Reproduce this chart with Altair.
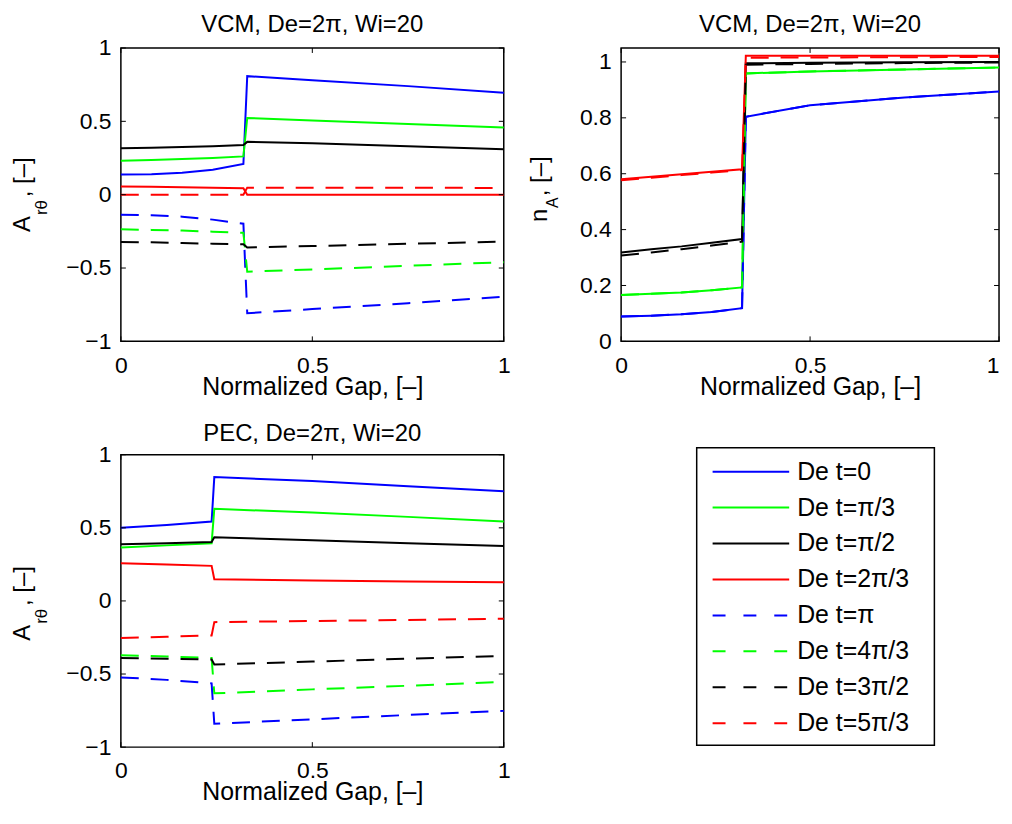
import altair as alt
import pandas as pd

FONT = "Liberation Sans"

# ---------------- data ----------------
series_names = ["De t=0", "De t=π/3", "De t=π/2", "De t=2π/3",
                "De t=π", "De t=4π/3", "De t=3π/2", "De t=5π/3"]
series_colors = ["#0000ff", "#00ff00", "#000000", "#ff0000",
                 "#0000ff", "#00ff00", "#000000", "#ff0000"]
series_dashed = [False, False, False, False, True, True, True, True]
series_order = [0, 1, 2, 3, 4, 5, 6, 7]

x_ticks = [0, 0.5, 1]
a_ticks = [-1, -0.5, 0, 0.5, 1]
n_ticks = [0, 0.2, 0.4, 0.6, 0.8, 1]

panel_titles = ["VCM, De=2π, Wi=20", "VCM, De=2π, Wi=20", "PEC, De=2π, Wi=20"]
x_title = "Normalized Gap, [–]"

# VCM, A_rtheta
vcm_x = [0, 0.08, 0.16, 0.24, 0.32, 0.33, 0.5, 0.75, 1.0]
vcm_a_t0 = [0.137, 0.140, 0.150, 0.170, 0.209, 0.808, 0.780, 0.740, 0.695]
vcm_a_t1 = [0.232, 0.236, 0.243, 0.250, 0.261, 0.523, 0.505, 0.482, 0.458]
vcm_a_t2 = [0.317, 0.320, 0.325, 0.330, 0.338, 0.360, 0.350, 0.330, 0.310]
vcm_a_t3 = [0.056, 0.054, 0.051, 0.048, 0.044, 0.000, 0.000, 0.000, 0.000]
vcm_a_t4 = [-0.137, -0.140, -0.150, -0.170, -0.198, -0.808, -0.780, -0.740, -0.695]
vcm_a_t5 = [-0.236, -0.240, -0.245, -0.252, -0.260, -0.525, -0.510, -0.485, -0.460]
vcm_a_t6 = [-0.322, -0.325, -0.330, -0.334, -0.338, -0.360, -0.350, -0.335, -0.320]
vcm_a_t7 = [0.000, 0.000, 0.000, 0.000, 0.000, 0.048, 0.048, 0.047, 0.046]

# VCM, n_A
vcm_n_t0 = [0.089, 0.092, 0.097, 0.105, 0.119, 0.804, 0.845, 0.873, 0.894]
vcm_n_t1 = [0.166, 0.170, 0.175, 0.183, 0.193, 0.959, 0.966, 0.973, 0.980]
vcm_n_t2 = [0.318, 0.330, 0.340, 0.353, 0.366, 0.995, 0.997, 0.999, 1.000]
vcm_n_t3 = [0.580, 0.589, 0.598, 0.607, 0.616, 1.022, 1.022, 1.022, 1.022]
vcm_n_t4 = [0.089, 0.092, 0.097, 0.105, 0.119, 0.804, 0.845, 0.873, 0.894]
vcm_n_t5 = [0.166, 0.170, 0.175, 0.183, 0.193, 0.959, 0.966, 0.973, 0.980]
vcm_n_t6 = [0.307, 0.318, 0.330, 0.343, 0.357, 0.990, 0.993, 0.996, 0.998]
vcm_n_t7 = [0.577, 0.586, 0.595, 0.604, 0.613, 1.015, 1.016, 1.017, 1.018]

# PEC, A_rtheta
pec_x = [0, 0.12, 0.237, 0.244, 0.5, 0.75, 1.0]
pec_a_t0 = [0.500, 0.520, 0.543, 0.847, 0.820, 0.785, 0.750]
pec_a_t1 = [0.365, 0.380, 0.394, 0.630, 0.605, 0.575, 0.543]
pec_a_t2 = [0.387, 0.395, 0.403, 0.435, 0.415, 0.395, 0.376]
pec_a_t3 = [0.258, 0.249, 0.240, 0.149, 0.140, 0.133, 0.127]
pec_a_t4 = [-0.523, -0.540, -0.564, -0.840, -0.810, -0.780, -0.752]
pec_a_t5 = [-0.371, -0.380, -0.390, -0.632, -0.605, -0.580, -0.553]
pec_a_t6 = [-0.390, -0.395, -0.400, -0.435, -0.415, -0.395, -0.376]
pec_a_t7 = [-0.254, -0.245, -0.236, -0.145, -0.137, -0.130, -0.122]

vcm_a = [vcm_a_t0, vcm_a_t1, vcm_a_t2, vcm_a_t3, vcm_a_t4, vcm_a_t5, vcm_a_t6, vcm_a_t7]
vcm_n = [vcm_n_t0, vcm_n_t1, vcm_n_t2, vcm_n_t3, vcm_n_t4, vcm_n_t5, vcm_n_t6, vcm_n_t7]
pec_a = [pec_a_t0, pec_a_t1, pec_a_t2, pec_a_t3, pec_a_t4, pec_a_t5, pec_a_t6, pec_a_t7]

# ---------------- layout constants ----------------
W1 = 385     # left column panels
W2 = 380     # right column panels
H1 = 295
H2 = 294
DASH = [18, 12]
TICK = 5
TXT = 25
TTL = 24


def long_df(xs, ys_list):
    rows = []
    for s, ys in zip(series_names, ys_list):
        for x, y in zip(xs, ys):
            rows.append({"x": x, "y": y, "series": s})
    return pd.DataFrame(rows)


def panel(xs, ys_list, ydom, yticks, title_text, title_y, ylab, w, h, flush_last=False):
    df = long_df(xs, ys_list)
    xsc = alt.Scale(domain=[0, 1], nice=False, zero=False)
    ysc = alt.Scale(domain=ydom, nice=False, zero=False)
    xax_kw = dict(values=x_ticks, format="~g", title=x_title, labelFlush=False)
    if flush_last:
        xax_kw["labelAlign"] = {"condition": {"test": "datum.value === 1", "value": "right"},
                                "value": "center"}
    xaxis = alt.Axis(**xax_kw)
    yaxis = alt.Axis(values=yticks, format="~g", title=None)
    layers = []
    for s, c, d in zip(series_names, series_colors, series_dashed):
        mk = dict(color=c, strokeWidth=2)
        if d:
            mk["strokeDash"] = DASH
        layers.append(
            alt.Chart(df).transform_filter(alt.datum.series == s).mark_line(**mk).encode(
                x=alt.X("x:Q", scale=xsc, axis=xaxis),
                y=alt.Y("y:Q", scale=ysc, axis=yaxis),
            )
        )
    xt = pd.DataFrame({"v": x_ticks})
    yt = pd.DataFrame({"v": yticks})
    for y0, y1 in [(h, h - TICK), (0, TICK)]:
        layers.append(
            alt.Chart(xt).mark_rule(color="black", strokeWidth=1).encode(
                x=alt.X("v:Q", scale=xsc, axis=xaxis), y=alt.value(y0), y2=alt.value(y1)
            )
        )
    for x0, x1 in [(0, TICK), (w - TICK, w)]:
        layers.append(
            alt.Chart(yt).mark_rule(color="black", strokeWidth=1).encode(
                y=alt.Y("v:Q", scale=ysc, axis=yaxis), x=alt.value(x0), x2=alt.value(x1)
            )
        )
    # y-axis title with subscript, built from rotated text pieces
    for txt, size, px, py in ylab:
        layers.append(
            alt.Chart(pd.DataFrame({"t": [txt]})).mark_text(
                angle=270, align="left", baseline="alphabetic", font=FONT,
                fontSize=size, color="black"
            ).encode(text="t:N", x=alt.value(px), y=alt.value(py))
        )
    # panel title
    layers.append(
        alt.Chart(pd.DataFrame({"t": [title_text]})).mark_text(
            align="center", baseline="alphabetic", font=FONT, fontSize=TTL, color="black"
        ).encode(text="t:N", x=alt.value(w / 2), y=alt.value(title_y))
    )
    return alt.layer(*layers).properties(width=w, height=h)


ylab_a1 = [("A", 24, -91, 185), ("rθ", 17, -74, 168), (", [–]", 24, -91, 150)]
ylab_n = [("n", 24, -75, 175), ("A", 16, -63, 161), (", [–]", 24, -75, 149)]
ylab_a3 = [("A", 24, -91, 187), ("rθ", 17, -74, 170), (", [–]", 24, -91, 152)]

p1 = panel(vcm_x, vcm_a, [-1, 1], a_ticks, panel_titles[0], -16, ylab_a1, W1, H1)
p2 = panel(vcm_x, vcm_n, [0, 1.05], n_ticks, panel_titles[1], -16, ylab_n, W2, H1, flush_last=True)
p3 = panel(pec_x, pec_a, [-1, 1], a_ticks, panel_titles[2], -14, ylab_a3, W1, H2)

# ---------------- legend panel ----------------
BOX_X0, BOX_X1 = 76, 315
BOX_Y0, BOX_Y1 = -7, 292
leg_df = pd.DataFrame({"series": series_names, "dashed": series_dashed,
                       "color": series_colors, "idx": series_order})
ly = alt.Y("idx:Q", scale=alt.Scale(domain=[-0.47, 7.665], reverse=True, nice=False, zero=False),
           axis=None)
leg_box = alt.Chart(pd.DataFrame({"b": [0]})).mark_rect(
    fill="white", stroke="black", strokeWidth=1.5
).encode(x=alt.value(BOX_X0), x2=alt.value(BOX_X1), y=alt.value(BOX_Y0), y2=alt.value(BOX_Y1))
leg_solid = alt.Chart(leg_df).transform_filter("!datum.dashed").mark_rule(strokeWidth=2).encode(
    y=ly, x=alt.value(BOX_X0 + 16), x2=alt.value(BOX_X0 + 93),
    color=alt.Color("color:N", scale=None)
)
leg_dashed = alt.Chart(leg_df).transform_filter("datum.dashed").mark_rule(
    strokeWidth=2, strokeDash=[13, 18]
).encode(y=ly, x=alt.value(BOX_X0 + 16), x2=alt.value(BOX_X0 + 93),
         color=alt.Color("color:N", scale=None))
leg_text = alt.Chart(leg_df).mark_text(
    align="left", baseline="middle", font=FONT, fontSize=TXT, color="black"
).encode(y=ly, x=alt.value(BOX_X0 + 101), text="series:N")
legend = alt.layer(leg_box, leg_solid, leg_dashed, leg_text).properties(
    width=W2, height=H2, view=alt.ViewConfig(strokeWidth=0, stroke="transparent"),
)

chart = alt.concat(
    p1, p2, p3, legend, columns=2, bounds="flush",
    spacing={"row": 114, "column": 118},
).properties(
    padding={"left": 2.5, "top": 2, "right": 0, "bottom": 0}
).configure(
    font=FONT
).configure_view(
    stroke="black", strokeWidth=1.5
).configure_axis(
    labelFont=FONT, labelFontSize=23, labelColor="black",
    titleFont=FONT, titleFontSize=TXT, titleFontWeight="normal", titleColor="black",
    grid=False, domain=False, ticks=False, tickSize=0,
).configure_axisX(
    labelPadding=13, titleY=33, titleBaseline="top"
).configure_axisY(
    labelPadding=10
)

chart.save("out.html", embed_options={"renderer": "svg", "actions": False})
